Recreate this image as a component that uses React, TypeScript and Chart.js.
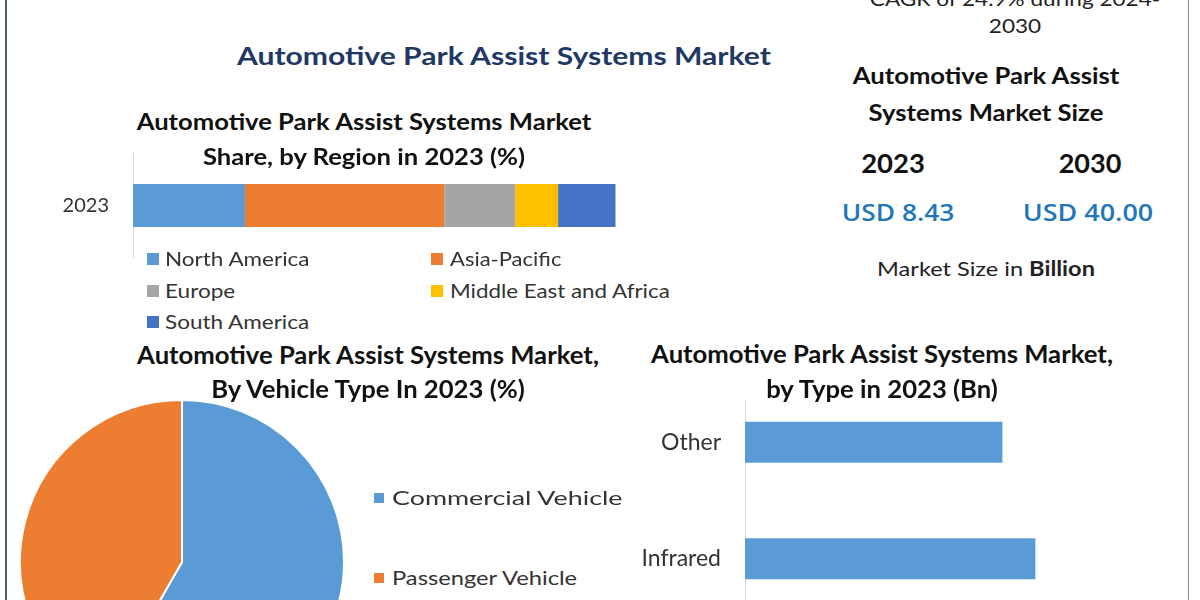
import React, { useEffect, useLayoutEffect, useRef, useState } from "react";
import { Chart, registerables } from "chart.js";
Chart.register(...registerables);

// ---------- data ----------
const regionYears = ["2023"];
const regionNames = ["North America", "Asia-Pacific", "Europe", "Middle East and Africa", "South America"];
const regionShares = [23.2, 41.3, 14.7, 8.9, 11.9];
const regionColors = ["#5b9bd5", "#ed7d31", "#a5a5a5", "#ffc000", "#4472c4"];

const vehicleTypes = ["Commercial Vehicle", "Passenger Vehicle"];
const vehicleShares = [58.3, 41.7];
const vehicleColors = ["#5b9bd5", "#ed7d31"];

const typeNames = ["Other", "Infrared"];
const typeValues = [1.95, 2.2];
const typeColor = "#5b9bd5";

const marketYears = ["2023", "2030"];
const marketValues = ["USD 8.43", "USD 40.00"];
const cagrText = "CAGR of 24.9% during 2024-";
const cagrEnd = "2030";

const FONT = "Lato, 'Open Sans', sans-serif";

// ---------- text helper ----------
type BlockProps = {
  x: number;
  y: number;
  lines: React.ReactNode[];
  gap?: number;
  size: number;
  w?: number;
  weight?: number;
  color?: string;
  align?: "center" | "left";
  family?: string;
  ls?: number;
};

function Block({ x, y, lines, gap = 0, size, w, weight = 400, color = "#222", align = "center", family = FONT, ls = 0 }: BlockProps) {
  const ref = useRef<HTMLDivElement>(null);
  const [s, setS] = useState(1);
  useLayoutEffect(() => {
    const measure = () => {
      if (ref.current && w) {
        const nw = ref.current.offsetWidth;
        if (nw > 0) setS(w / nw);
      }
    };
    measure();
    if ((document as any).fonts && (document as any).fonts.ready) (document as any).fonts.ready.then(measure);
  }, [w]);
  return (
    <>
      {lines.map((ln, i) => (
        <div
          key={i}
          ref={i === 0 ? ref : undefined}
          style={{
            position: "absolute",
            left: x,
            top: y + i * gap,
            fontFamily: family,
            fontSize: size,
            fontWeight: weight,
            color,
            letterSpacing: ls,
            whiteSpace: "nowrap",
            lineHeight: 1,
            transform: align === "center" ? `translate(-50%,-50%) scaleX(${s})` : `translateY(-50%) scaleX(${s})`,
            transformOrigin: align === "center" ? "50% 50%" : "0 50%",
          }}
        >
          {ln}
        </div>
      ))}
    </>
  );
}

function Swatch({ x, y, size, color }: { x: number; y: number; size: number; color: string }) {
  return <div style={{ position: "absolute", left: x, top: y - size / 2, width: size, height: size, background: color }} />;
}

const noVPad = (w: number) => (s: any) => {
  s.width = w;
  s.paddingTop = 0;
  s.paddingBottom = 0;
};

// ---------- charts ----------
function RegionChart() {
  const ref = useRef<HTMLCanvasElement>(null);
  useEffect(() => {
    const chart = new Chart(ref.current!, {
      type: "bar",
      data: {
        labels: regionYears,
        datasets: regionNames.map((n, i) => ({
          label: n,
          data: [regionShares[i]],
          backgroundColor: regionColors[i],
          borderWidth: 0,
          categoryPercentage: 1,
          barPercentage: 0.41,
        })),
      },
      options: {
        indexAxis: "y",
        responsive: false,
        animation: false,
        layout: { padding: 0 },
        plugins: { legend: { display: false }, tooltip: { enabled: false } },
        scales: {
          x: { stacked: true, display: false, min: 0, max: 120 },
          y: {
            stacked: true,
            grid: { display: false, drawTicks: false },
            border: { display: true, color: "#d9d9d9", width: 1 },
            ticks: { padding: 24, color: "#333", font: { family: FONT, size: 20 } },
            afterFit: noVPad(133),
          },
        },
      },
    } as any);
    return () => chart.destroy();
  }, []);
  return <canvas ref={ref} width={712} height={105} style={{ position: "absolute", left: 0, top: 153, width: 712, height: 105 }} />;
}

function VehicleChart() {
  const ref = useRef<HTMLCanvasElement>(null);
  useEffect(() => {
    const chart = new Chart(ref.current!, {
      type: "pie",
      data: {
        labels: vehicleTypes,
        datasets: [
          {
            data: vehicleShares,
            backgroundColor: vehicleColors,
            borderColor: "#ffffff",
            borderWidth: 2,
          },
        ],
      },
      options: {
        responsive: false,
        animation: false,
        layout: { padding: 0 },
        plugins: { legend: { display: false }, tooltip: { enabled: false } },
      },
    } as any);
    return () => chart.destroy();
  }, []);
  return <canvas ref={ref} width={326} height={326} style={{ position: "absolute", left: 19, top: 399, width: 326, height: 326 }} />;
}

function TypeChart() {
  const ref = useRef<HTMLCanvasElement>(null);
  useEffect(() => {
    const chart = new Chart(ref.current!, {
      type: "bar",
      data: {
        labels: typeNames,
        datasets: [
          {
            data: typeValues,
            backgroundColor: typeColor,
            borderWidth: 0,
            categoryPercentage: 1,
            barPercentage: 0.353,
          },
        ],
      },
      options: {
        indexAxis: "y",
        responsive: false,
        animation: false,
        layout: { padding: 0 },
        plugins: { legend: { display: false }, tooltip: { enabled: false } },
        scales: {
          x: { display: false, min: 0, max: 3 },
          y: {
            grid: { display: false, drawTicks: false },
            border: { display: true, color: "#d9d9d9", width: 1 },
            ticks: { padding: 24, color: "#333", font: { family: FONT, size: 23 } },
            afterFit: noVPad(125),
          },
        },
      },
    } as any);
    return () => chart.destroy();
  }, []);
  return (
    <div style={{ position: "absolute", left: 620, top: 400, width: 521, height: 200, overflow: "hidden" }}>
      <canvas ref={ref} width={521} height={233} style={{ position: "absolute", left: 0, top: -16, width: 521, height: 233 }} />
    </div>
  );
}

export default function App() {
  const legendPos = [
    { x: 147, tx: 165, y: 258, w: 144 },
    { x: 431, tx: 450, y: 258, w: 111 },
    { x: 147, tx: 165, y: 290, w: 70 },
    { x: 431, tx: 450, y: 290, w: 220 },
    { x: 147, tx: 165, y: 321, w: 144 },
  ];
  const pieLegend = [
    { y: 497, w: 231 },
    { y: 577, w: 185 },
  ];
  return (
    <div
      style={{
        position: "fixed",
        left: 0,
        top: 0,
        width: 1200,
        height: 600,
        overflow: "hidden",
        background: "#fff",
      }}
    >
      {/* frame lines */}
      <div style={{ position: "absolute", left: 5, top: 0, width: 2, height: 600, background: "#4b5c68" }} />
      <div style={{ position: "absolute", left: 1188, top: 0, width: 1, height: 600, background: "#7d8c97" }} />

      <RegionChart />
      <VehicleChart />
      <TypeChart />

      {/* main title */}
      <Block x={504} y={55} lines={["Automotive Park Assist Systems Market"]} size={25} w={534} weight={700} color="#1f3864" />

      {/* region section */}
      <Block
        x={364}
        y={122}
        gap={35}
        lines={["Automotive Park Assist Systems Market", "Share, by Region in 2023 (%)"]}
        size={22}
        w={455}
        weight={700}
        color="#111"
      />
      {regionNames.map((n, i) => (
        <React.Fragment key={n}>
          <Swatch x={legendPos[i].x} y={legendPos[i].y + 1} size={12} color={regionColors[i]} />
          <Block x={legendPos[i].tx} y={legendPos[i].y} lines={[n]} size={20} w={legendPos[i].w} color="#333" align="left" />
        </React.Fragment>
      ))}

      {/* vehicle section */}
      <Block
        x={368}
        y={355}
        gap={34}
        lines={["Automotive Park Assist Systems Market,", "By Vehicle Type In 2023 (%)"]}
        size={24}
        w={462}
        weight={700}
        color="#111"
      />
      {vehicleTypes.map((n, i) => (
        <React.Fragment key={n}>
          <Swatch x={374} y={pieLegend[i].y + 1} size={10} color={vehicleColors[i]} />
          <Block x={392} y={pieLegend[i].y} lines={[n]} size={20} w={pieLegend[i].w} color="#333" align="left" />
        </React.Fragment>
      ))}

      {/* type section */}
      <Block
        x={882}
        y={354}
        gap={35}
        lines={["Automotive Park Assist Systems Market,", "by Type in 2023 (Bn)"]}
        size={24}
        w={462}
        weight={700}
        color="#111"
      />

      {/* market size panel */}
      <Block x={1015} y={-2} gap={27} lines={[cagrText, cagrEnd]} size={20} w={290} color="#222" />
      <Block
        x={986}
        y={76}
        gap={37}
        lines={["Automotive Park Assist", "Systems Market Size"]}
        size={22}
        w={267}
        weight={700}
        color="#111"
      />
      <Block x={893} y={162} lines={[marketYears[0]]} size={27} w={64} weight={700} color="#111" />
      <Block x={1090} y={162} lines={[marketYears[1]]} size={27} w={63} weight={700} color="#111" />
      <Block x={898} y={212} lines={[marketValues[0]]} size={24} w={113} weight={600} color="#1f77b8" family="'Open Sans', sans-serif" />
      <Block x={1088} y={212} lines={[marketValues[1]]} size={24} w={130} weight={600} color="#1f77b8" family="'Open Sans', sans-serif" />
      <Block
        x={986}
        y={268}
        lines={[
          <>
            Market Size in <b>Billion</b>
          </>,
        ]}
        size={20}
        w={218}
        color="#222"
      />
    </div>
  );
}
